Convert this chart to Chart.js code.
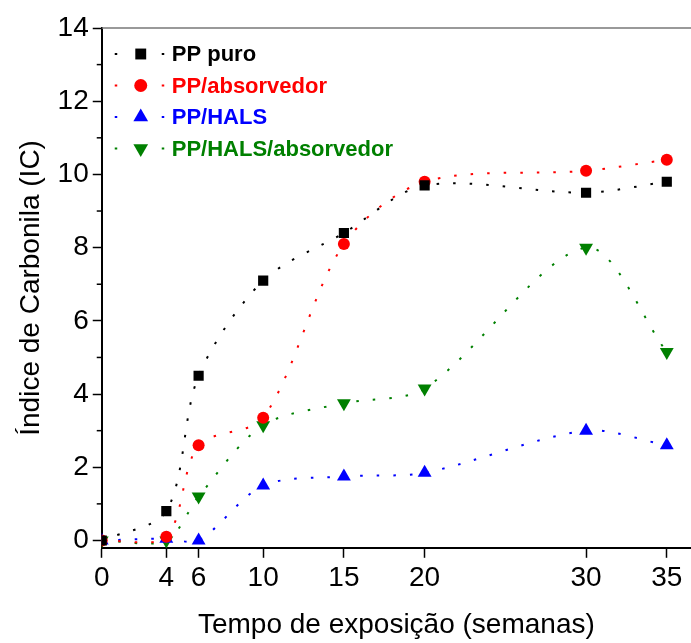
<!DOCTYPE html>
<html>
<head>
<meta charset="utf-8">
<script src="https://cdn.jsdelivr.net/npm/chart.js@4.4.0/dist/chart.umd.min.js"></script>
<style>
  body { margin: 0; background: #fff; }
  #wrap { width: 691px; height: 643px; }
</style>
</head>
<body>
<div id="wrap"><canvas id="chart"></canvas></div>
<script>
// ---- data ----
const weeks = [0, 4, 6, 10, 15, 20, 30, 35];
const ppPuro = [0, 0.8, 4.5, 7.1, 8.4, 9.7, 9.5, 9.8];
const ppAbsorvedor = [0, 0.1, 2.6, 3.35, 8.1, 9.8, 10.1, 10.4];
const ppHals = [0, 0.05, 0, 1.5, 1.75, 1.85, 3.0, 2.6];
const ppHalsAbsorvedor = [0, 0, 1.2, 3.15, 3.75, 4.15, 8.0, 5.15];
const xTicks = [0, 4, 6, 10, 15, 20, 30, 35];
const yTicks = [0, 2, 4, 6, 8, 10, 12, 14];
const yMinorTicks = [1, 3, 5, 7, 9, 11, 13];

const narrow = "'Liberation Sans Narrow', 'Arial Narrow', 'Liberation Sans', Arial, sans-serif";
const wide = "'Liberation Sans', Arial, sans-serif";

function series(label, values, color, style, radius, rotation) {
    return {
        label,
        data: weeks.map((x, i) => ({ x, y: values[i] })),
        borderColor: color,
        backgroundColor: color,
        borderWidth: 2,
        borderDash: [2.5, 14],
        tension: 0.3,
        pointStyle: style,
        pointRadius: radius,
        pointRotation: rotation,
        pointBorderWidth: 0,
        pointHoverRadius: radius
    };
}

const datasets = [
    series("PP puro", ppPuro, "#000000", "rect", 7.2, 0),
    series("PP/absorvedor", ppAbsorvedor, "#ff0000", "circle", 6, 0),
    series("PP/HALS", ppHals, "#0000ff", "triangle", 8, 0),
    series("PP/HALS/absorvedor", ppHalsAbsorvedor, "#008000", "triangle", 8, 180)
];

// legend inside the plot + minor y ticks + top frame line
const extras = {
    id: "extras",
    afterDraw(chart) {
        const { ctx, chartArea, scales } = chart;
        ctx.save();
        // top frame
        ctx.strokeStyle = "#777";
        ctx.lineWidth = 1.5;
        ctx.beginPath();
        ctx.moveTo(chartArea.left, chartArea.top);
        ctx.lineTo(chartArea.right, chartArea.top);
        ctx.stroke();
        // minor ticks on y
        ctx.strokeStyle = "#000";
        ctx.lineWidth = 1.5;
        yMinorTicks.forEach(v => {
            const y = scales.y.getPixelForValue(v);
            ctx.beginPath();
            ctx.moveTo(chartArea.left - 5, y);
            ctx.lineTo(chartArea.left, y);
            ctx.stroke();
        });
        // legend
        chart.data.datasets.forEach((ds, i) => {
            const y = chartArea.top + 26 + i * 31.5;
            const x0 = chartArea.left + 13;
            ctx.strokeStyle = ds.borderColor;
            ctx.lineWidth = 2;
            ctx.setLineDash([2.5, 21]);
            ctx.beginPath();
            ctx.moveTo(x0, y);
            ctx.lineTo(x0 + 54, y);
            ctx.stroke();
            ctx.setLineDash([]);
            ctx.fillStyle = ds.backgroundColor;
            Chart.helpers.drawPoint(ctx, {
                pointStyle: ds.pointStyle,
                radius: ds.pointRadius + 0.5,
                rotation: ds.pointRotation,
                borderWidth: 0
            }, x0 + 26, y);
            ctx.font = "bold 22px " + wide;
            ctx.textBaseline = "middle";
            ctx.fillText(ds.label, x0 + 57, y + 1);
        });
        ctx.restore();
    }
};

new Chart(document.getElementById("chart"), {
    type: "line",
    data: { datasets },
    plugins: [extras],
    options: {
        responsive: true,
        maintainAspectRatio: false,
        animation: false,
        layout: { autoPadding: false, padding: { top: 28, right: 0, left: 14, bottom: 1 } },
        plugins: { legend: { display: false }, tooltip: { enabled: false } },
        scales: {
            x: {
                type: "linear",
                min: 0,
                max: 36.5,
                afterBuildTicks: s => { s.ticks = xTicks.map(v => ({ value: v })); },
                afterFit: s => { s.paddingRight = 0; },
                grid: { drawOnChartArea: false, tickLength: 10, tickWidth: 1.5, tickColor: "#000" },
                border: { color: "#000", width: 2 },
                ticks: { color: "#000", font: { family: narrow, size: 28 }, padding: 4, maxRotation: 0 },
                title: { display: true, text: "Tempo de exposição (semanas)", color: "#000",
                         font: { family: narrow, size: 28 }, padding: { top: 9, bottom: 0 } }
            },
            y: {
                min: -0.2,
                max: 14,
                afterBuildTicks: s => { s.ticks = yTicks.map(v => ({ value: v })); },
                afterFit: s => { s.paddingTop = 0; },
                grid: { drawOnChartArea: false, tickLength: 9, tickWidth: 1.5, tickColor: "#000" },
                border: { color: "#000", width: 2 },
                ticks: { color: "#000", font: { family: narrow, size: 28 }, padding: 4 },
                title: { display: true, text: "Índice de Carbonila (IC)", color: "#000",
                         font: { family: narrow, size: 28 }, padding: { top: 0, bottom: 6 } }
            }
        }
    }
});
</script>
</body>
</html>
